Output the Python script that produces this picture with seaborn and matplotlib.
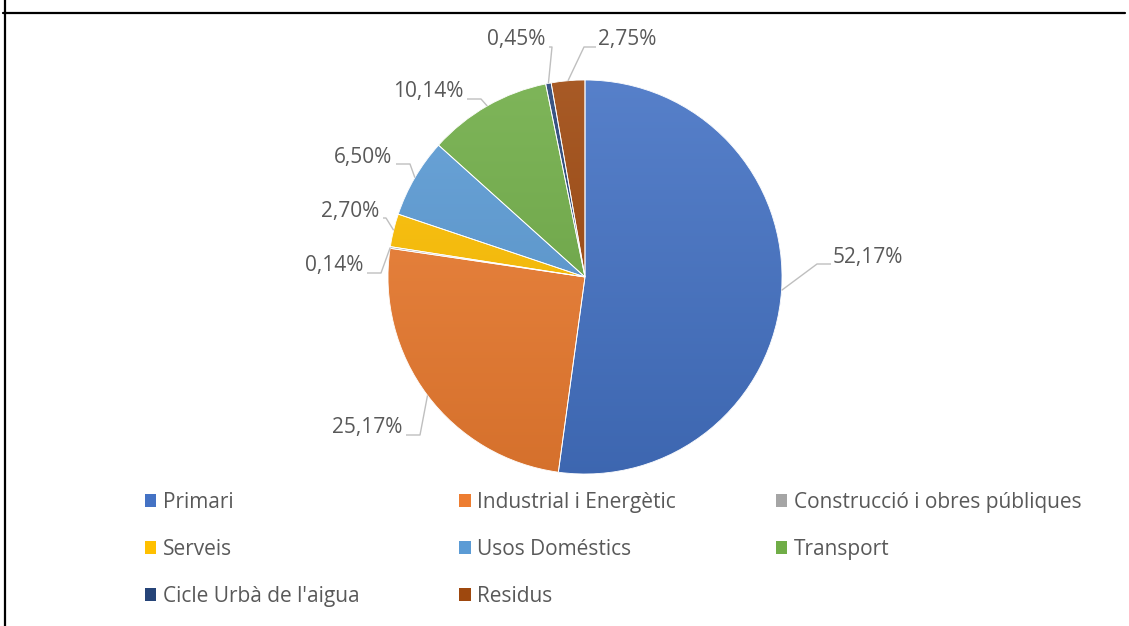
import numpy as np
import matplotlib
matplotlib.use("Agg")
import matplotlib.pyplot as plt
import matplotlib.colors as mcolors
from matplotlib.lines import Line2D
from matplotlib.patches import Patch, Wedge
import seaborn as sns

# ---------------- data ----------------
categories = ["Primari", "Industrial i Energètic", "Construcció i obres públiques",
              "Serveis", "Usos Doméstics", "Transport",
              "Cicle Urbà de l'aigua", "Residus"]
values = [52.17, 25.17, 0.14, 2.70, 6.50, 10.14, 0.45, 2.75]
value_labels = ["52,17%", "25,17%", "0,14%", "2,70%", "6,50%", "10,14%", "0,45%", "2,75%"]
colors = ["#4472C4", "#ED7D31", "#A5A5A5", "#FFC000", "#5B9BD5", "#70AD47",
          "#264478", "#9E480E"]

# ---------------- layout (pixel coords, y from top) ----------------
W, H = 1129, 626
CX, CY, R = 585, 277, 197
# label anchor x, center y, ha, horizontal leader length
label_layout = [
    (833, 257, "left", 14),
    (402, 428, "right", 14),
    (363, 266, "right", 14),
    (379, 211, "right", 3),
    (392, 157, "right", 14),
    (463, 92, "right", 14),
    (545, 40, "right", 3),
    (598, 40, "left", 12),
]

sns.set_theme(style="white")
plt.rcParams["font.family"] = ["Open Sans", "DejaVu Sans"]

TEXT = "#595959"
LEADER = "#BFBFBF"
FS = 15

fig = plt.figure(figsize=(W / 100, H / 100), dpi=100)
fig.patch.set_facecolor("white")
ax = fig.add_axes([0, 0, 1, 1])

def py(y):
    return H - y

wedges, _ = ax.pie(values, colors=colors, startangle=90, counterclock=False,
                   center=(CX, py(CY)), radius=R,
                   wedgeprops=dict(linewidth=0.6, edgecolor="white"))
ax.set_xlim(0, W)
ax.set_ylim(0, H)
ax.set_aspect("auto")
ax.axis("off")

# vertical gradient on each wedge (lighter top, darker bottom)
def mix(c, other, t):
    a = np.array(mcolors.to_rgb(c)); b = np.array(mcolors.to_rgb(other))
    return a * (1 - t) + b * t

n = 256
for w, c in zip(wedges, colors):
    top = mix(c, "white", 0.10)
    bot = mix(c, "black", 0.10)
    t = np.linspace(0, 1, n)[:, None]
    grad = top[None, :] * (1 - t) + bot[None, :] * t
    img = grad[:, None, :]
    im = ax.imshow(img, extent=(CX - R, CX + R, py(CY + R), py(CY - R)),
                   origin="upper", aspect="auto", zorder=w.get_zorder() + 0.1,
                   interpolation="bilinear")
    im.set_clip_path(w)
for w in wedges:
    ax.add_patch(Wedge(w.center, w.r, w.theta1, w.theta2, facecolor="none",
                       edgecolor="white", linewidth=0.6, zorder=5))
ax.set_xlim(0, W)
ax.set_ylim(0, H)

# labels and leader lines
cum = np.cumsum([0] + values[:-1])
total = sum(values)
for i, (v, lab) in enumerate(zip(values, value_labels)):
    mid = (cum[i] + v / 2) / total * 360.0
    ang = np.deg2rad(90 - mid)
    ex, ey = CX + R * np.cos(ang), CY - R * np.sin(ang)
    tx, ty, ha, hl = label_layout[i]
    ly = ty + 7
    if ha == "left":
        end_x = tx - 2
        elbow_x = end_x - hl
    else:
        end_x = tx + 4
        elbow_x = end_x + hl
    ax.plot([ex, elbow_x, end_x], [py(ey), py(ly), py(ly)], color=LEADER,
            lw=1.0, zorder=6, solid_capstyle="butt")
    ax.text(tx, py(ty), lab, ha=ha, va="center", fontsize=FS, color=TEXT,
            zorder=7)

# legend (row-wise order across 3 columns)
order = [0, 3, 6, 1, 4, 7, 2, 5]
handles = [Patch(facecolor=colors[i], edgecolor="none") for i in order]
labels = [categories[i] for i in order]
leg = fig.legend(handles, labels, ncol=3, loc="upper left",
                 bbox_to_anchor=(145 / W, 1 - 492 / H), frameon=False,
                 fontsize=FS, handlelength=0.55, handleheight=0.55,
                 handletextpad=0.3, columnspacing=4.8, labelspacing=1.24,
                 borderpad=0, borderaxespad=0, labelcolor=TEXT)

# frame lines (table border)
fig.add_artist(Line2D([3 / W, 1125 / W], [1 - 13 / H, 1 - 13 / H],
                      transform=fig.transFigure, color="black", lw=1.6))
fig.add_artist(Line2D([5 / W, 5 / W], [0, 1], transform=fig.transFigure,
                      color="black", lw=1.6))

fig.savefig("out.png", dpi=100, facecolor="white")
